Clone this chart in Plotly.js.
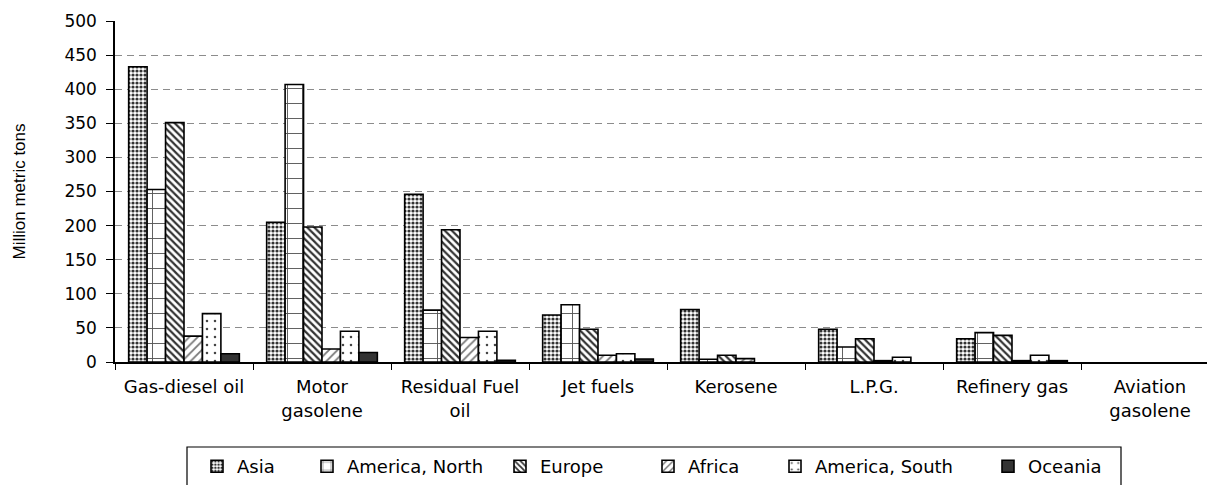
<!DOCTYPE html>
<html>
<head>
<meta charset="utf-8">
<script src="https://cdn.plot.ly/plotly-3.0.1.min.js"></script>
<style>
  html, body { margin: 0; padding: 0; background: #fff; }
  #chart { width: 1207px; height: 485px; }
</style>
</head>
<body>
<div id="chart"></div>
<script>
// ---- data ----
var categories = ["Gas-diesel oil", "Motor gasolene", "Residual Fuel oil", "Jet fuels",
                  "Kerosene", "L.P.G.", "Refinery gas", "Aviation gasolene"];
var tickLabels = ["Gas-diesel oil", "Motor<br>gasolene", "Residual Fuel<br>oil", "Jet fuels",
                  "Kerosene", "L.P.G.", "Refinery gas", "Aviation<br>gasolene"];
var seriesNames = ["Asia", "America, North", "Europe", "Africa", "America, South", "Oceania"];
var asia          = [433, 205, 246, 69, 77, 48, 34, 0];
var americaNorth  = [253, 407, 76, 84, 4, 22, 43, 0];
var europe        = [351, 198, 194, 48, 10, 34, 39, 0];
var africa        = [38, 19, 36, 10, 5, 2, 2, 0];
var americaSouth  = [71, 45, 45, 12, 0, 7, 10, 0];
var oceania       = [12, 14, 2.5, 4.4, 0, 0, 2, 0];
var yTickVals = [0, 50, 100, 150, 200, 250, 300, 350, 400, 450, 500];

// ---- styles ----
var seriesValues = [asia, americaNorth, europe, africa, americaSouth, oceania];
var patterns = [
  {shape: ".", size: 4, solidity: 0.5, fgcolor: "#333333", bgcolor: "#ffffff"},
  {shape: "+", size: 15, solidity: 0.12, fgcolor: "#555555", bgcolor: "#ffffff"},
  {shape: "\\", size: 5, solidity: 0.45, fgcolor: "#333333", bgcolor: "#ffffff"},
  {shape: "/", size: 6, solidity: 0.3, fgcolor: "#777777", bgcolor: "#ffffff"},
  {shape: ".", size: 8, solidity: 0.08, fgcolor: "#444444", bgcolor: "#ffffff"},
  {shape: "", size: 8, solidity: 0.1, fgcolor: "#333333", bgcolor: "#333333"}
];
var legendTextX = [237, 347, 540, 688, 815, 1028];  // pixel positions of legend labels

var W = 1207, H = 485, ML = 115, MR = 0, MT = 21, MB = 123;
var PW = W - ML - MR, PH = H - MT - MB;
function px2x(p) { return (p - ML) / PW; }
function py2y(p) { return (H - MB - p) / PH; }

var legendFont = {family: "DejaVu Sans", size: 18, color: "#000"};
var traces = [];
var layoutLegends = {};
for (var i = 0; i < seriesNames.length; i++) {
  var lname = i === 0 ? "legend" : "legend" + (i + 1);
  traces.push({
    type: "bar",
    name: seriesNames[i],
    x: categories,
    y: seriesValues[i],
    legend: lname,
    marker: {
      color: i === 5 ? "#333333" : "#ffffff",
      line: {color: "#000000", width: seriesValues[i].map(function (v) { return v > 0 ? 1.6 : 0; })},
      pattern: patterns[i]
    },
    hoverinfo: "name+y"
  });
  layoutLegends[lname] = {
    x: px2x(legendTextX[i] - 40),
    xanchor: "left",
    y: py2y(467),
    yanchor: "middle",
    orientation: "h",
    bgcolor: "rgba(0,0,0,0)",
    borderwidth: 0,
    font: legendFont
  };
}

var layout = {
  width: W, height: H,
  margin: {l: ML, r: MR, t: MT, b: MB, pad: 0},
  paper_bgcolor: "#ffffff",
  plot_bgcolor: "#ffffff",
  barmode: "group",
  bargap: 0.198,
  bargroupgap: 0,
  showlegend: true,
  xaxis: {
    type: "category",
    range: [-0.5, -0.5 + PW / 138],
    tickvals: categories,
    ticktext: tickLabels,
    tickson: "boundaries",
    ticks: "outside",
    ticklen: 6,
    tickcolor: "#000",
    tickwidth: 1,
    showline: true,
    linecolor: "#000",
    linewidth: 1.5,
    showgrid: false,
    ticklabelstandoff: 8,
    tickfont: {family: "DejaVu Sans", size: 18, color: "#000"},
    fixedrange: true
  },
  yaxis: {
    range: [0, 500],
    tickvals: yTickVals,
    ticks: "outside",
    ticklen: 7,
    tickcolor: "#000",
    tickwidth: 1,
    showline: true,
    linecolor: "#000",
    linewidth: 1.5,
    showgrid: true,
    gridcolor: "#8c8c8c",
    gridwidth: 1,
    griddash: "7px,5px",
    zeroline: false,
    ticklabelstandoff: 6,
    tickfont: {family: "DejaVu Sans", size: 17, color: "#000"},
    title: {text: "Million metric tons", font: {family: "Liberation Sans", size: 17, color: "#000"}, standoff: 34},
    fixedrange: true
  },
  shapes: [{
    type: "rect", xref: "paper", yref: "paper",
    x0: px2x(187), x1: px2x(1121), y0: py2y(447), y1: py2y(492),
    line: {color: "#000", width: 1.2},
    fillcolor: "rgba(0,0,0,0)",
    layer: "below"
  }]
};
for (var k in layoutLegends) layout[k] = layoutLegends[k];

Plotly.newPlot("chart", traces, layout, {displayModeBar: false, responsive: false});
</script>
</body>
</html>
